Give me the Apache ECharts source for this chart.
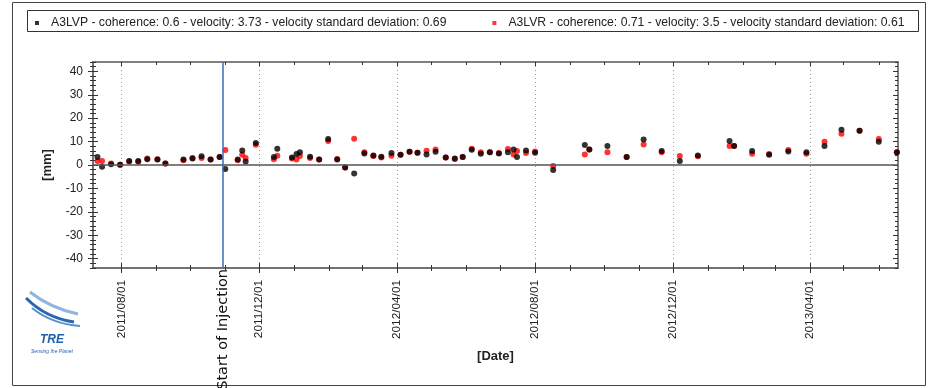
<!DOCTYPE html>
<html>
<head>
<meta charset="utf-8">
<script src="https://cdn.jsdelivr.net/npm/echarts@6/dist/echarts.min.js"></script>
<style>
  html, body { margin: 0; padding: 0; background: #fff; }
  #chart { width: 933px; height: 388px; }
</style>
</head>
<body>
<div id="chart"></div>
<script>
const dates = [
  '2011-07-11', '2011-07-15', '2011-07-23', '2011-07-31', '2011-08-08', '2011-08-16', '2011-08-24', '2011-09-02',
  '2011-09-09', '2011-09-25', '2011-10-03', '2011-10-11', '2011-10-19', '2011-10-27', '2011-11-01', '2011-11-12',
  '2011-11-16', '2011-11-19', '2011-11-28', '2011-12-14', '2011-12-17', '2011-12-30', '2012-01-03', '2012-01-06',
  '2012-01-15', '2012-01-23', '2012-01-31', '2012-02-08', '2012-02-15', '2012-02-23', '2012-03-03', '2012-03-11',
  '2012-03-18', '2012-03-27', '2012-04-04', '2012-04-12', '2012-04-19', '2012-04-27', '2012-05-05', '2012-05-14',
  '2012-05-22', '2012-05-29', '2012-06-06', '2012-06-14', '2012-06-22', '2012-06-30', '2012-07-08', '2012-07-13',
  '2012-07-16', '2012-07-24', '2012-08-01', '2012-08-17', '2012-09-14', '2012-09-18', '2012-10-04', '2012-10-21',
  '2012-11-05', '2012-11-21', '2012-12-07', '2012-12-23', '2013-01-20', '2013-01-24', '2013-02-09', '2013-02-24',
  '2013-03-13', '2013-03-29', '2013-04-14', '2013-04-29', '2013-05-15', '2013-06-01', '2013-06-17'
]

// displacement [mm]
const a3lvp = [
  3.4, -0.7, 0.3, 0.1, 1.7, 1.7, 2.5, 2.4, 0.6, 2.4,
  2.8, 3.7, 2.4, 3.4, -1.7, 2.3, 6.2, 1.5, 9.4, 3.4,
  6.9, 3.2, 4.7, 5.5, 3.5, 2.3, 11.1, 2.4, -1.1, -3.6,
  4.9, 4.1, 3.5, 5.1, 4.4, 5.7, 5.2, 4.5, 5.7, 3.2,
  2.8, 3.4, 6.5, 4.8, 5.5, 4.9, 5.5, 6.6, 3.4, 6.2,
  5.2, -2.1, 8.5, 6.6, 8.1, 3.4, 10.9, 6.0, 1.7, 4.1,
  10.3, 8.1, 6.0, 4.4, 5.8, 5.5, 8.1, 15.1, 14.6, 9.9, 5.5
]
const a3lvr = [
  1.7, 1.7, 0.6, 0.1, 1.5, 1.4, 2.8, 2.5, 0.6, 2.0,
  3.0, 3.0, 2.4, 3.4, 6.4, 2.0, 4.4, 3.0, 8.6, 2.5,
  4.0, 2.8, 2.4, 3.8, 3.0, 2.3, 10.3, 2.6, -1.1, 11.2,
  5.5, 3.8, 3.2, 4.0, 4.4, 5.7, 5.2, 6.1, 6.6, 3.2,
  2.6, 3.4, 6.9, 5.5, 5.5, 5.1, 6.8, 4.5, 6.0, 5.1,
  5.8, -0.4, 4.5, 6.6, 5.5, 3.4, 8.8, 5.4, 3.8, 3.7,
  8.1, 8.1, 4.8, 4.7, 6.4, 4.8, 9.9, 13.3, 14.6, 11.1, 5.5
]

const nameP = 'A3LVP - coherence: 0.6 - velocity: 3.73 - velocity standard deviation: 0.69'
const nameR = 'A3LVR - coherence: 0.71 - velocity: 3.5 - velocity standard deviation: 0.61'

const labelDates = ['2011-08-01', '2011-12-01', '2012-04-01', '2012-08-01', '2012-12-01', '2013-04-01']
const monthTicks = [
  '2011-08-01', '2011-09-01', '2011-10-01', '2011-11-01', '2011-12-01', '2012-01-01', '2012-02-01', '2012-03-01',
  '2012-04-01', '2012-05-01', '2012-06-01', '2012-07-01', '2012-08-01', '2012-09-01', '2012-10-01', '2012-11-01',
  '2012-12-01', '2013-01-01', '2013-02-01', '2013-03-01', '2013-04-01', '2013-05-01', '2013-06-01'
]
const yLabels = [-40, -30, -20, -10, 0, 10, 20, 30, 40]
const injectionDate = '2011-10-30'

function ts(s) {
  const [y, m, d] = s.split('-').map(Number)
  return new Date(y, m - 1, d).getTime()
}
function pad(n) { return n < 10 ? '0' + n : '' + n }

const xMin = ts('2011-07-07')
const xMax = ts('2013-06-18')
const yMin = -44
const yMax = 44
const labelTs = labelDates.map(ts)
const monthTs = monthTicks.map(ts)
const minorY = []
for (let v = yMin; v <= yMax; v += 2) minorY.push(v)

const tickColor = '#333'
const font = 'Liberation Sans, Arial, sans-serif'

// extra axes only carry tick marks (inside/outside, major/minor)
function xAx(pos, ticks, len, inside, line) {
  return {
    type: 'value', position: pos, min: xMin, max: xMax,
    axisLine: { show: !!line, onZero: false, lineStyle: { color: '#555', width: 1.5 } },
    axisLabel: { show: false },
    axisTick: { show: true, customValues: ticks, length: len, inside: inside, lineStyle: { color: tickColor } },
    splitLine: { show: false }
  }
}
function yAx(pos, ticks, len, inside, line) {
  return {
    type: 'value', position: pos, min: yMin, max: yMax,
    axisLine: { show: !!line, onZero: false, lineStyle: { color: '#555', width: 1.5 } },
    axisLabel: { show: false },
    axisTick: { show: true, customValues: ticks, length: len, inside: inside, lineStyle: { color: tickColor } },
    splitLine: { show: false }
  }
}

const chart = echarts.init(document.getElementById('chart'))

const option = {
  animation: false,
  textStyle: { fontFamily: font },
  grid: { left: 93, right: 35, top: 62, bottom: 120, containLabel: false },
  legend: {
    data: [nameP, nameR],
    left: 30,
    top: 12,
    icon: 'rect',
    itemWidth: 4,
    itemHeight: 4,
    itemGap: 46,
    textStyle: { fontSize: 12.2, color: '#222', fontFamily: font, padding: [0, 0, 0, 7] }
  },
  xAxis: [
    {
      type: 'value', position: 'bottom', min: xMin, max: xMax,
      name: '[Date]', nameLocation: 'middle', nameGap: 82,
      nameTextStyle: { fontSize: 13, fontWeight: 'bold', color: '#222' },
      axisLine: { show: true, onZero: false, lineStyle: { color: '#444', width: 1.5 } },
      axisTick: { show: true, customValues: labelTs, length: 5, lineStyle: { color: tickColor } },
      axisLabel: {
        customValues: labelTs, rotate: 90, margin: 12, fontSize: 11.8, color: '#222',
        formatter: v => {
          const d = new Date(v)
          return d.getFullYear() + '/' + pad(d.getMonth() + 1) + '/' + pad(d.getDate())
        }
      },
      splitLine: { show: true, lineStyle: { color: '#999', type: [1, 3], width: 1 } }
    },
    xAx('bottom', labelTs, 5, true),
    xAx('bottom', monthTs, 3, false),
    xAx('bottom', monthTs, 3, true),
    xAx('top', monthTs, 3, true, true),
    xAx('top', labelTs, 4, true)
  ],
  yAxis: [
    {
      type: 'value', position: 'left', min: yMin, max: yMax,
      name: '[mm]', nameLocation: 'middle', nameGap: 39, nameRotate: 90,
      nameTextStyle: { fontSize: 13, fontWeight: 'bold', color: '#222' },
      axisLine: { show: true, onZero: false, lineStyle: { color: '#444', width: 1.5 } },
      axisTick: { show: true, customValues: yLabels, length: 5, lineStyle: { color: tickColor } },
      axisLabel: { customValues: yLabels, margin: 10, fontSize: 12, color: '#222' },
      splitLine: { show: false }
    },
    yAx('left', yLabels, 5, true),
    yAx('left', minorY, 3, false),
    yAx('left', minorY, 3, true),
    yAx('right', minorY, 3, true, true),
    yAx('right', yLabels, 5, true)
  ],
  series: [
    {
      name: nameP,
      type: 'scatter',
      z: 4,
      symbol: 'circle',
      symbolSize: 6,
      itemStyle: { color: '#000' },
      data: dates.map((d, i) => [ts(d), a3lvp[i]]),
      markLine: {
        silent: true,
        symbol: 'none',
        label: { show: false },
        data: [
          { yAxis: 0, lineStyle: { color: '#555', width: 1.5, type: 'solid' } },
          { xAxis: ts(injectionDate), lineStyle: { color: '#3a6db4', width: 1.5, type: 'solid' } }
        ]
      }
    },
    {
      name: nameR,
      type: 'scatter',
      z: 3,
      symbol: 'circle',
      symbolSize: 6,
      itemStyle: { color: '#ff0000' },
      data: dates.map((d, i) => [ts(d), a3lvr[i]])
    }
  ]
}

chart.setOption(option)

const injX = chart.convertToPixel({ xAxisIndex: 0 }, ts(injectionDate))
const plotBottom = chart.convertToPixel({ yAxisIndex: 0 }, yMin)

chart.setOption({
  graphic: [
    {
      type: 'rect', z: -10, silent: true,
      shape: { x: 12.5, y: 2.5, width: 913, height: 383 },
      style: { fill: 'none', stroke: '#444', lineWidth: 1 }
    },
    {
      type: 'rect', z: -5, silent: true,
      shape: { x: 27.5, y: 10.5, width: 891, height: 21 },
      style: { fill: '#fff', stroke: '#333', lineWidth: 1 }
    },
    {
      type: 'text', silent: true,
      x: injX, y: plotBottom + 1, rotation: Math.PI / 2,
      style: { text: 'Start of Injection', font: '14.5px DejaVu Sans', fill: '#111', align: 'right', verticalAlign: 'middle' }
    },
    {
      type: 'group', silent: true, x: 24, y: 288,
      children: [
        { type: 'bezierCurve', shape: { x1: 6, y1: 4, cpx1: 26, cpy1: 20, x2: 54, y2: 26 }, style: { stroke: '#8fb6df', lineWidth: 3, fill: 'none' } },
        { type: 'bezierCurve', shape: { x1: 2, y1: 10, cpx1: 22, cpy1: 30, x2: 50, y2: 34 }, style: { stroke: '#2a65b0', lineWidth: 3, fill: 'none' } },
        { type: 'bezierCurve', shape: { x1: 8, y1: 20, cpx1: 28, cpy1: 36, x2: 56, y2: 38 }, style: { stroke: '#5a8fcc', lineWidth: 2, fill: 'none' } },
        { type: 'text', x: 28, y: 52, style: { text: 'TRE', font: 'italic bold 12px Liberation Sans', fill: '#1f5fa8', align: 'center', verticalAlign: 'middle' } },
        { type: 'text', x: 28, y: 64, style: { text: 'Sensing the Planet', font: 'italic 5px Liberation Sans', fill: '#2a65b0', align: 'center', verticalAlign: 'middle' } }
      ]
    }
  ]
})
</script>
</body>
</html>
